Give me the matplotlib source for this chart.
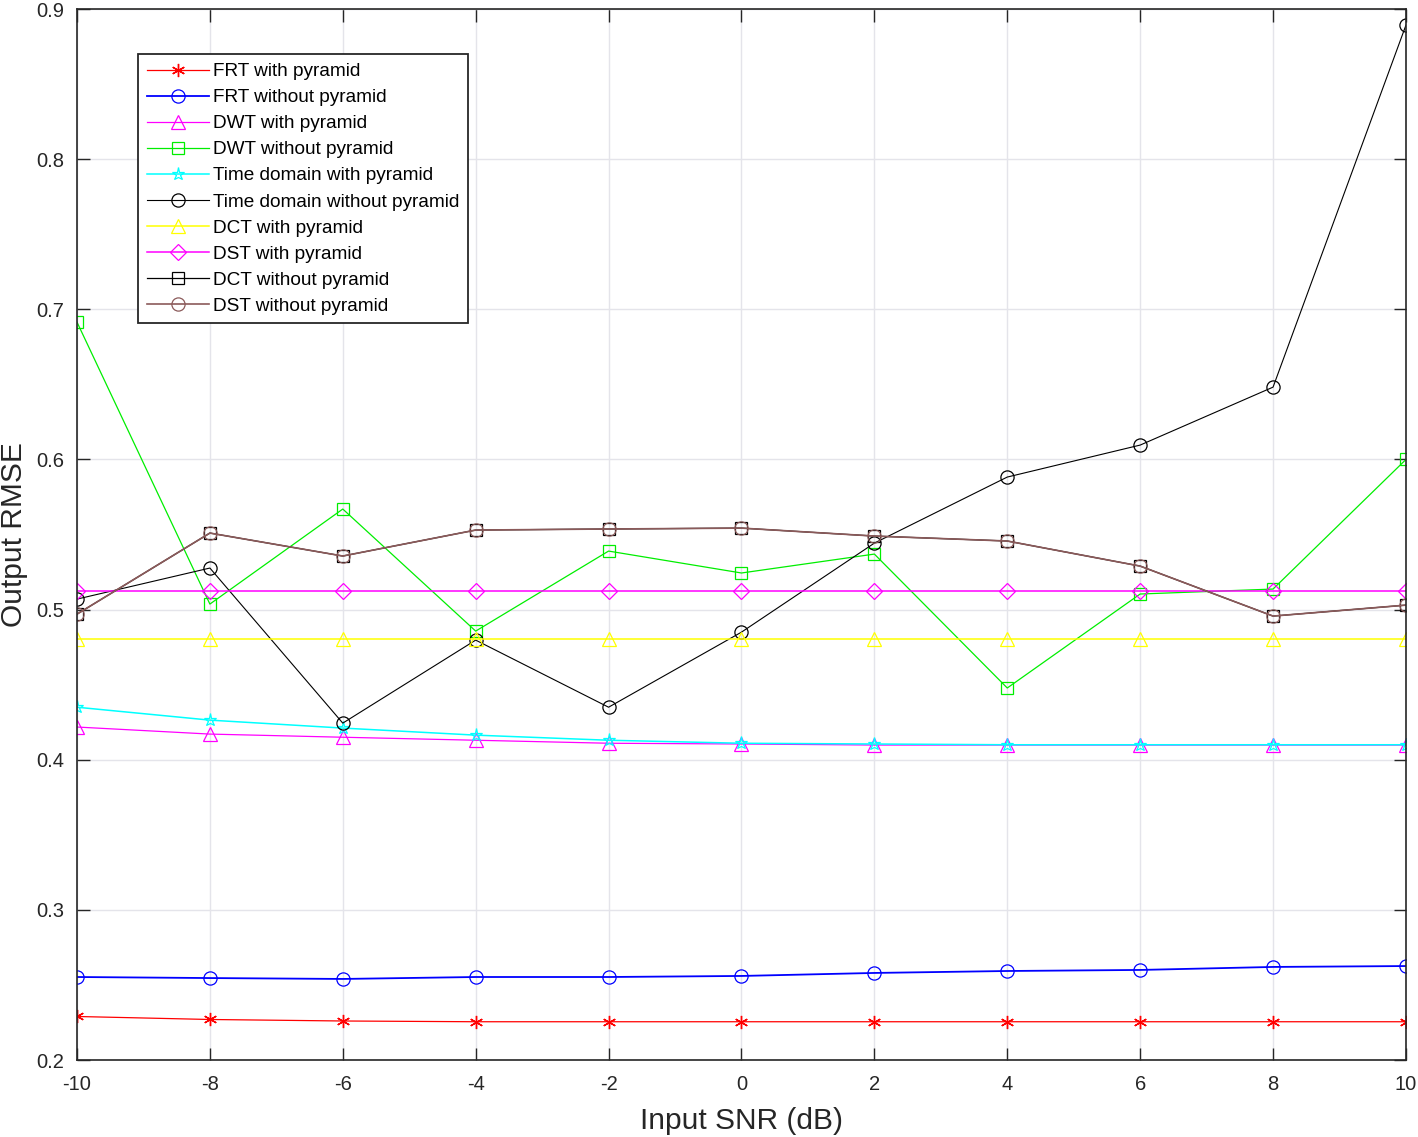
import matplotlib
matplotlib.use('Agg')
import matplotlib.pyplot as plt

plt.rcParams['font.family'] = ['Liberation Sans', 'DejaVu Sans']

snr = [-10, -8, -6, -4, -2, 0, 2, 4, 6, 8, 10]

frt_pyr    = [0.229, 0.227, 0.226, 0.2255, 0.2255, 0.2255, 0.2255, 0.2255, 0.2255, 0.2255, 0.2255]
frt_nopyr  = [0.2553, 0.2546, 0.254, 0.2553, 0.2553, 0.256, 0.258, 0.2593, 0.26, 0.262, 0.2626]
dwt_pyr    = [0.4218, 0.4171, 0.415, 0.413, 0.411, 0.4105, 0.4098, 0.4098, 0.4098, 0.4098, 0.4098]
dwt_nopyr  = [0.6915, 0.5037, 0.567, 0.4857, 0.539, 0.5244, 0.537, 0.4478, 0.5104, 0.5137, 0.600]
time_pyr   = [0.435, 0.4264, 0.4211, 0.4164, 0.413, 0.411, 0.4105, 0.410, 0.410, 0.410, 0.410]
time_nopyr = [0.507, 0.5277, 0.4244, 0.4797, 0.435, 0.485, 0.5443, 0.5883, 0.6096, 0.6482, 0.8893]
dct_pyr    = [0.4804] * 11
dst_pyr    = [0.5124] * 11
dct_nopyr  = [0.497, 0.551, 0.5357, 0.553, 0.5537, 0.5543, 0.549, 0.5457, 0.529, 0.4957, 0.503]
dst_nopyr  = [0.497, 0.551, 0.5357, 0.553, 0.5537, 0.5543, 0.549, 0.5457, 0.529, 0.4957, 0.503]

labels = ['FRT with pyramid', 'FRT without pyramid', 'DWT with pyramid',
          'DWT without pyramid', 'Time domain with pyramid',
          'Time domain without pyramid', 'DCT with pyramid', 'DST with pyramid',
          'DCT without pyramid', 'DST without pyramid']

fig = plt.figure(figsize=(14.18, 11.37), dpi=100)
ax = fig.add_axes([0.0543, 0.0677, 0.9372, 0.9243])

ms = 9.5
mew = 0.9
# matlab style asterisk
ax.plot(snr, frt_pyr, color='#ff0000', marker=(6, 2, 0), ms=ms, mew=1.0, lw=0.9, label=labels[0])
ax.plot(snr, frt_nopyr, color='#0000ff', marker='o', ms=ms, mew=mew, mfc='none', lw=1.3, label=labels[1])
ax.plot(snr, dwt_pyr, color='#ff00ff', marker='^', ms=ms + 1, mew=mew, mfc='none', lw=0.9, label=labels[2])
ax.plot(snr, dwt_nopyr, color='#00ee00', marker='s', ms=ms - 1, mew=mew, mfc='none', lw=0.9, label=labels[3])
ax.plot(snr, time_pyr, color='#00ffff', marker='*', ms=ms, mew=mew, mfc='none', lw=1.1, label=labels[4])
ax.plot(snr, time_nopyr, color='#000000', marker='o', ms=ms, mew=mew, mfc='none', lw=0.8, label=labels[5])
ax.plot(snr, dct_pyr, color='#ffff00', marker='^', ms=ms + 1, mew=mew, mfc='none', lw=1.1, label=labels[6])
ax.plot(snr, dst_pyr, color='#ff00ff', marker='D', ms=ms - 1, mew=mew, mfc='none', lw=1.1, label=labels[7])
ax.plot(snr, dct_nopyr, color='#000000', marker='s', ms=ms - 1, mew=mew, mfc='none', lw=0.9, label=labels[8])
ax.plot(snr, dst_nopyr, color='#8b5a5a', marker='o', ms=ms, mew=mew, mfc='none', lw=1.2, label=labels[9])

ax.set_xlim(-10, 10)
ax.set_ylim(0.2, 0.9)
ax.set_xticks(snr)
ax.set_xticklabels([str(v) for v in snr])
ax.set_yticks([0.2, 0.3, 0.4, 0.5, 0.6, 0.7, 0.8, 0.9])
ax.set_yticklabels(['0.2', '0.3', '0.4', '0.5', '0.6', '0.7', '0.8', '0.9'])
ax.tick_params(direction='in', length=9, width=1, top=True, right=True,
               labelsize=14.5, colors='#262626')
ax.tick_params(axis='x', pad=11)
ax.tick_params(axis='y', pad=9)
ax.grid(True, color='#e4e4ea', lw=1)
ax.set_axisbelow(True)
for s in ax.spines.values():
    s.set_color('#262626')
    s.set_linewidth(1.2)

ax.set_xlabel('Input SNR (dB)', fontsize=21.5, color='#262626', labelpad=9)
ax.set_ylabel('Output RMSE', fontsize=21.5, color='#262626', labelpad=6)

leg = ax.legend(loc='upper left', bbox_to_anchor=(0.0459, 0.957), borderaxespad=0,
                fontsize=13.7, handlelength=3.3, handletextpad=0.2, labelspacing=0.46,
                fancybox=False, framealpha=1, edgecolor='#262626',
                borderpad=0.45)
leg.get_frame().set_linewidth(1.3)

fig.savefig('out.png', dpi=100)
